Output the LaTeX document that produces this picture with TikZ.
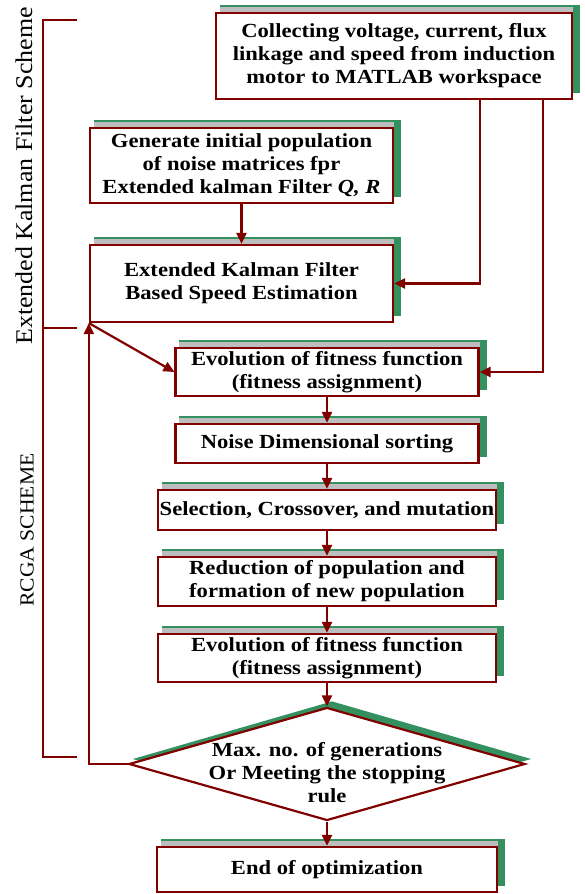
\documentclass[tikz,border=0pt]{standalone}
\usepackage{fontspec}
\setmainfont{Liberation Serif}[FakeStretch=1.13]
\newfontfamily\sidefont{Liberation Serif}[FakeStretch=1.08]
\usetikzlibrary{shapes.geometric,arrows.meta,backgrounds}
\definecolor{dred}{RGB}{128,0,0}
\definecolor{sgreen}{RGB}{52,145,95}
\definecolor{sgray}{RGB}{190,190,190}
\newcommand\boxshadow[1]{%
  \fill[sgreen] ([shift={(5pt,7pt)}]#1.north west) rectangle ([shift={(7pt,7pt)}]#1.south east);
  \fill[sgray] ([shift={(5pt,5pt)}]#1.north west) rectangle (#1.north east);}
\begin{document}
\begin{tikzpicture}[x=1pt,y=-1pt,
  box/.style={draw=dred, line width=2.2pt, fill=white, rectangle, inner sep=0pt, align=center,
    font=\fontsize{20}{23}\selectfont\bfseries},
  txt/.style={inner sep=0pt, align=center, font=\fontsize{20}{23}\selectfont\bfseries},
  arr/.style={draw=dred, line width=2.2pt, -{Triangle[length=11pt,width=10pt]}},
  brk/.style={draw=dred, line width=2pt},
  side/.style={inner sep=0pt, rotate=90}]
\useasboundingbox (0,0) rectangle (584,894);

\node[box, minimum width=356pt, minimum height=86pt] (top) at (394,56)
  {Collecting voltage, current, flux\\linkage and speed from induction\\motor to MATLAB workspace};
\node[box, minimum width=303pt, minimum height=75pt] (gen) at (241.5,165.5)
  {Generate initial population\\of noise matrices fpr\\Extended kalman Filter \textit{Q, R}};
\node[box, minimum width=303pt, minimum height=77pt] (ekf) at (241.5,283.5)
  {Extended Kalman Filter\\Based Speed Estimation};
\node[box, minimum width=303pt, minimum height=48pt] (ev1) at (327,372)
  {Evolution of fitness function\\(fitness assignment)};
\node[box, minimum width=303pt, minimum height=39pt] (noise) at (327,443.5)
  {Noise Dimensional sorting};
\node[box, minimum width=338pt, minimum height=40pt] (sel) at (327,510)
  {Selection, Crossover, and mutation};
\node[box, minimum width=338pt, minimum height=49pt] (red) at (327,581.5)
  {Reduction of population and\\formation of new population};
\node[box, minimum width=338pt, minimum height=48pt] (ev2) at (327,658)
  {Evolution of fitness function\\(fitness assignment)};
\node[draw=dred, line width=2.2pt, fill=white, diamond, minimum width=396pt, minimum height=113pt, inner sep=0pt] (dec) at (327,764) {};
\node[txt] (dect) at (327,773) {Max. no. of generations\\Or Meeting the stopping\\rule};
\node[box, minimum width=340pt, minimum height=45pt] (end) at (327,869.5)
  {End of optimization};

\begin{scope}[on background layer]
  \boxshadow{top}
  \boxshadow{gen}
  \boxshadow{ekf}
  \boxshadow{ev1}
  \boxshadow{noise}
  \boxshadow{sel}
  \boxshadow{red}
  \boxshadow{ev2}
  \boxshadow{end}
  \fill[sgreen] ([shift={(5pt,5pt)}]dec.north) -- ([shift={(5pt,5pt)}]dec.east) -- ([shift={(5pt,5pt)}]dec.south) -- ([shift={(5pt,5pt)}]dec.west) -- cycle;
\end{scope}

\draw[arr] ([xshift=86pt]top.south) |- (ekf.east);
\draw[arr] ([xshift=149pt]top.south) |- (ev1.east);
\draw[arr] (gen.south) -- (ekf.north);
\draw[arr] (ekf.south west) -- (ev1.west);
\draw[arr] (ev1.south) -- (noise.north);
\draw[arr] (noise.south) -- (sel.north);
\draw[arr] (sel.south) -- (red.north);
\draw[arr] (red.south) -- (ev2.north);
\draw[arr] (ev2.south) -- (dec.north);
\draw[arr] (dec.south) -- (end.north);
\draw[arr] (dec.west) -| (ekf.south west);

\draw[brk] (77,20) -- (43,20) -- (43,757) -- (77,757);
\draw[brk] (43,328) -- (77,328);
\node[side, font=\sidefont\fontsize{24}{26}\selectfont] (lab1) at (24,176) {Extended Kalman Filter Scheme};
\node[side, font=\sidefont\fontsize{20}{22}\selectfont] (lab2) at (27,530) {RCGA SCHEME};
\end{tikzpicture}
\end{document}
